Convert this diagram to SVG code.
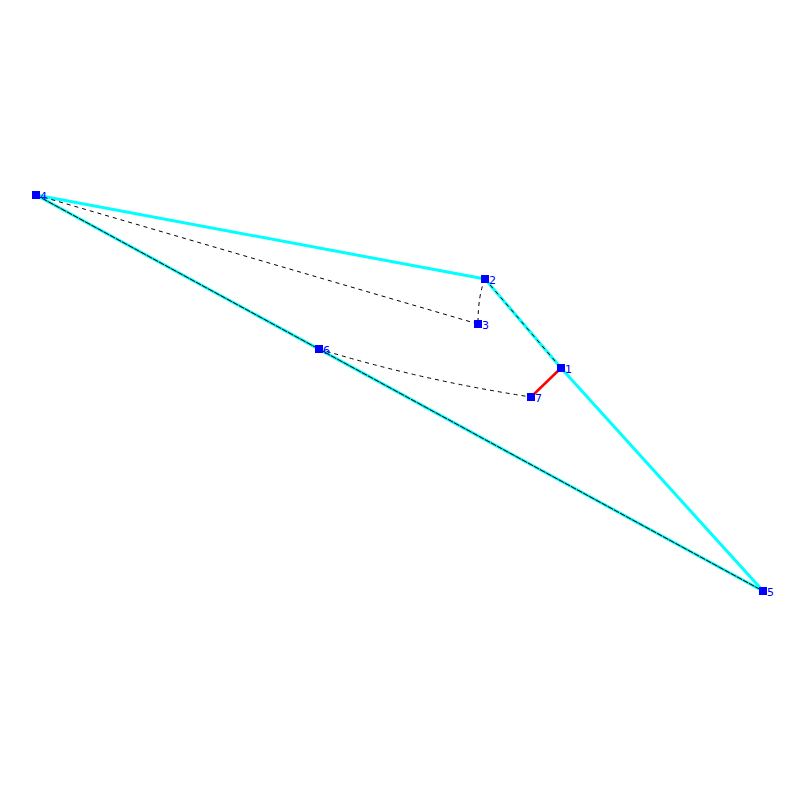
<svg xmlns="http://www.w3.org/2000/svg" width="800" height="800" viewBox="0 0 800 800">
<style>
.c{stroke:#00ffff;stroke-width:3;fill:none}
.d{stroke:#000;stroke-width:1;stroke-dasharray:4,4;fill:none}
.dd{stroke:#000;stroke-width:1;stroke-dasharray:6,1;fill:none}
.r{stroke:#ff0000;stroke-width:2.5}
.n rect{fill:#0000ff}
.n text{fill:#0000ff;font-family:"DejaVu Sans",sans-serif;font-size:11px}
</style>
<rect width="800" height="800" fill="#fff"/>
<g id="connectors">
<line class="c" x1="36" y1="195" x2="485" y2="279"/>
<line class="c" x1="485" y1="279" x2="561" y2="368"/>
<line class="c" x1="561" y1="368" x2="763" y2="591"/>
<line class="c" x1="36" y1="195" x2="763" y2="591"/>
<line class="d" x1="36" y1="195" x2="478" y2="324"/>
<path class="d" d="M485,279 Q478,295 478,324"/>
<line class="d" x1="485" y1="279" x2="561" y2="368"/>
<path class="d" d="M319,349 Q420,380 531,397"/>
<line class="dd" x1="36" y1="195" x2="763" y2="591"/>
<line class="r" x1="561" y1="368" x2="531" y2="397"/>
</g>
<g id="node1" class="n"><rect x="557" y="364" width="8" height="8"/><text x="565" y="373">1</text></g>
<g id="node2" class="n"><rect x="481" y="275" width="8" height="8"/><text x="489" y="284">2</text></g>
<g id="node3" class="n"><rect x="474" y="320" width="8" height="8"/><text x="482" y="329">3</text></g>
<g id="node4" class="n"><rect x="32" y="191" width="8" height="8"/><text x="40" y="200">4</text></g>
<g id="node5" class="n"><rect x="759" y="587" width="8" height="8"/><text x="767" y="596">5</text></g>
<g id="node6" class="n"><rect x="315" y="345" width="8" height="8"/><text x="323" y="354">6</text></g>
<g id="node7" class="n"><rect x="527" y="393" width="8" height="8"/><text x="535" y="402">7</text></g>
</svg>
